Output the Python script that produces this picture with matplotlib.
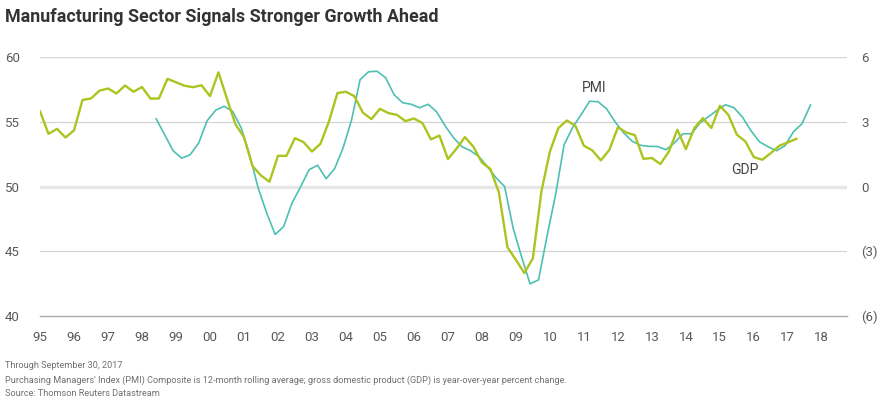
import matplotlib

matplotlib.use("Agg")
import matplotlib.pyplot as plt
import numpy as np

# GDP, year-over-year % change, quarterly from 1995 Q1 (right axis)
gdp_start = 1995.0
gdp_values = [
    3.48, 2.44, 2.67, 2.27, 2.60, 4.01, 4.08, 4.44, 4.54, 4.31,
    4.68, 4.39, 4.61, 4.07, 4.08, 4.99, 4.83, 4.67, 4.60, 4.69,
    4.19, 5.29, 4.07, 2.88, 2.29, 0.95, 0.51, 0.22, 1.42, 1.42,
    2.24, 2.06, 1.62, 1.98, 3.01, 4.33, 4.39, 4.18, 3.42, 3.12,
    3.60, 3.40, 3.32, 3.03, 3.15, 2.94, 2.18, 2.36, 1.27, 1.75,
    2.29, 1.84, 1.11, 0.81, -0.28, -2.81, -3.40, -4.01, -3.32, -0.23,
    1.62, 2.71, 3.06, 2.81, 1.89, 1.67, 1.21, 1.70, 2.74, 2.50,
    2.38, 1.28, 1.32, 1.04, 1.62, 2.63, 1.73, 2.71, 3.17, 2.71,
    3.74, 3.32, 2.40, 2.09, 1.36, 1.24, 1.55, 1.89, 2.04, 2.21,
]

# PMI composite, 12-month rolling average, read every quarter from Jun 1998 (left axis)
pmi_start = 1998 + 5 / 12
pmi_values = [
    55.23, 54.00, 52.76, 52.19, 52.45, 53.35, 55.08, 55.89, 56.20, 55.80,
    54.54, 52.45, 49.90, 47.97, 46.30, 46.90, 48.74, 49.98, 51.30, 51.64,
    50.60, 51.37, 52.99, 55.15, 58.25, 58.86, 58.90, 58.40, 57.09, 56.47,
    56.35, 56.08, 56.35, 55.77, 54.69, 53.76, 53.07, 52.76, 52.30, 51.52,
    50.67, 50.00, 46.81, 44.57, 42.48, 42.79, 46.19, 49.36, 53.22, 54.54,
    55.54, 56.58, 56.55, 56.00, 55.00, 54.15, 53.50, 53.18, 53.10, 53.09,
    52.84, 53.38, 54.07, 54.07, 54.92, 55.39, 55.89, 56.31, 56.08, 55.35,
    54.30, 53.45, 53.07, 52.76, 53.15, 54.23, 54.85, 56.30,
]

years = list(range(1995, 2019))
year_labels = [f"{y % 100:02d}" for y in years]
left_ticks = [40, 45, 50, 55, 60]
right_ticks = [-6, -3, 0, 3, 6]
right_labels = ["(6)", "(3)", "0", "3", "6"]

title = "Manufacturing Sector Signals Stronger Growth Ahead"
notes = [
    "Through September 30, 2017",
    "Purchasing Managers' Index (PMI) Composite is 12-month rolling average; "
    "gross domestic product (GDP) is year-over-year percent change.",
    "Source: Thomson Reuters Datastream",
]

GDP_COLOR = "#adc31f"
PMI_COLOR = "#4ec0b1"
TEXT_COLOR = "#5a5a5a"

if __name__ == "__main__":
    plt.rcParams["font.family"] = ["Roboto", "DejaVu Sans"]

    fig = plt.figure(figsize=(8.8, 3.99), dpi=100)
    ax = fig.add_axes([40 / 880, 1 - 316 / 399, 807 / 880, 259 / 399])
    ax2 = ax.twinx()

    gdp_x = gdp_start + 0.25 * np.arange(len(gdp_values))
    pmi_x = pmi_start + 0.25 * np.arange(len(pmi_values))

    ax.set_xlim(1995.0, 2018.74)
    ax.set_ylim(40, 60)
    ax2.set_ylim(-6, 6)

    for v in left_ticks:
        if v == 40:
            ax.axhline(v, color="#aaaaaa", lw=1.0, zorder=1, clip_on=False)
        elif v == 50:
            ax.axhline(v, color="#e6e6e6", lw=2.4, zorder=1)
        else:
            ax.axhline(v, color="#d4d4d4", lw=0.9, zorder=1)

    ax.plot(pmi_x, pmi_values, color=PMI_COLOR, lw=1.2, zorder=3)
    ax2.plot(gdp_x, gdp_values, color=GDP_COLOR, lw=1.7, zorder=3)

    ax.set_xticks(years)
    ax.set_xticklabels(year_labels)
    ax.set_yticks(left_ticks)
    ax.set_yticklabels([str(v) for v in left_ticks])
    ax2.set_yticks(right_ticks)
    ax2.set_yticklabels(right_labels)

    for a in (ax, ax2):
        for s in a.spines.values():
            s.set_visible(False)
        a.tick_params(length=0, labelsize=9.5, labelcolor=TEXT_COLOR)
    ax.tick_params(axis="x", pad=11)
    ax.tick_params(axis="y", pad=14.5)
    ax2.tick_params(axis="y", pad=10)

    ax.text(2011.29, 57.63, "PMI", color="#444444", fontsize=10, ha="center", va="center")
    ax.text(2015.74, 51.29, "GDP", color="#444444", fontsize=10, ha="center", va="center")

    fig.text(5 / 880, 1 - 17 / 399, title, fontsize=12.9, fontweight="bold",
             color="#333333", va="center", ha="left",
             family=["Liberation Sans Narrow", "Roboto", "DejaVu Sans"])

    for i, line in enumerate(notes):
        fig.text(5 / 880, 1 - (366 + 14 * i) / 399, line, fontsize=6.6,
                 color="#707070", va="center", ha="left")

    fig.savefig("out.png", dpi=100)
